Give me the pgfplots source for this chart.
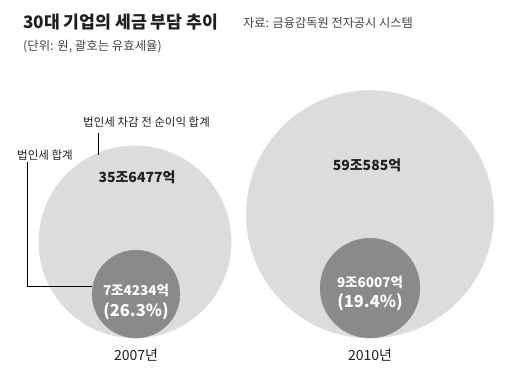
\documentclass[border=0pt]{standalone}
\usepackage{pgfplots}
\pgfplotsset{compat=1.18}
\usepackage{fontspec}
\setmainfont{Noto Sans CJK KR}
\definecolor{lightc}{HTML}{DCDCDC}
\definecolor{darkc}{HTML}{8A8A8A}
\definecolor{txt}{HTML}{231F20}
\definecolor{srcc}{HTML}{444444}
\newcommand{\fs}[1]{\fontsize{#1bp}{#1bp}\selectfont}
\begin{document}
\begin{tikzpicture}
\useasboundingbox (0,0) rectangle (506bp,384bp);
\begin{axis}[
  at={(0,0)}, anchor=south west,
  scale only axis, width=506bp, height=384bp,
  xmin=0, xmax=506, ymin=0, ymax=384, y dir=reverse,
  axis lines=none, clip=false,
]
% big circles: x, y (centre, pixel), value (조원)
\addplot[scatter, only marks, mark=*, point meta=explicit,
  scatter/use mapped color={draw=lightc, fill=lightc},
  visualization depends on={16.16*sqrt(\thisrow{v}) \as \perpointmarksize},
  scatter/@pre marker code/.append style={/tikz/mark size=\perpointmarksize}]
  table[meta=v] {
x y v
135 241.9 35.6477
370 214.3 59.0585
};
% small circles
\addplot[scatter, only marks, mark=*, point meta=explicit,
  scatter/use mapped color={draw=darkc, fill=darkc},
  visualization depends on={16.16*sqrt(\thisrow{v}) \as \perpointmarksize},
  scatter/@pre marker code/.append style={/tikz/mark size=\perpointmarksize}]
  table[meta=v] {
x y v
136 294.1 7.4234
370 288.1 9.6007
};
\end{axis}
\begin{scope}[x=1bp, y=-1bp, yshift=384bp]
% titles
\node[anchor=west, text=txt, inner sep=0pt] at (23,22) {\fs{17.2}\bfseries 30대 기업의 세금 부담 추이};
\node[anchor=west, text=srcc, inner sep=0pt] at (243,23) {\fs{12.2}자료: 금융감독원 전자공시 시스템};
\node[anchor=west, text=srcc, inner sep=0pt] at (23,47) {\fs{12.4}(단위: 원, 괄호는 유효세율)};
% annotations
\node[anchor=west, text=txt, inner sep=0pt] at (83,122) {\fs{11.5}법인세 차감 전 순이익 합계};
\node[anchor=west, text=txt, inner sep=0pt] at (17,155) {\fs{11.5}법인세 합계};
\draw[line width=0.8bp, black] (98,133) -- (98,155);
\draw[line width=0.8bp, black] (27,162) -- (27,286) -- (92,286);
% values
\node[text=txt, inner sep=0pt] at (137,177) {\fs{14}\bfseries 35조6477억};
\node[text=txt, inner sep=0pt] at (367,165) {\fs{14}\bfseries 59조585억};
\node[text=white, inner sep=0pt] at (136,290) {\fs{13.5}\bfseries 7조4234억};
\node[text=white, inner sep=0pt] at (136,311) {\fs{16.5}\bfseries (26.3\%)};
\node[text=white, inner sep=0pt] at (370,282) {\fs{13.5}\bfseries 9조6007억};
\node[text=white, inner sep=0pt] at (370,302) {\fs{16.5}\bfseries (19.4\%)};
% years
\node[text=txt, inner sep=0pt] at (136,355) {\fs{14}2007년};
\node[text=txt, inner sep=0pt] at (370,355) {\fs{14}2010년};
\end{scope}
\end{tikzpicture}
\end{document}
